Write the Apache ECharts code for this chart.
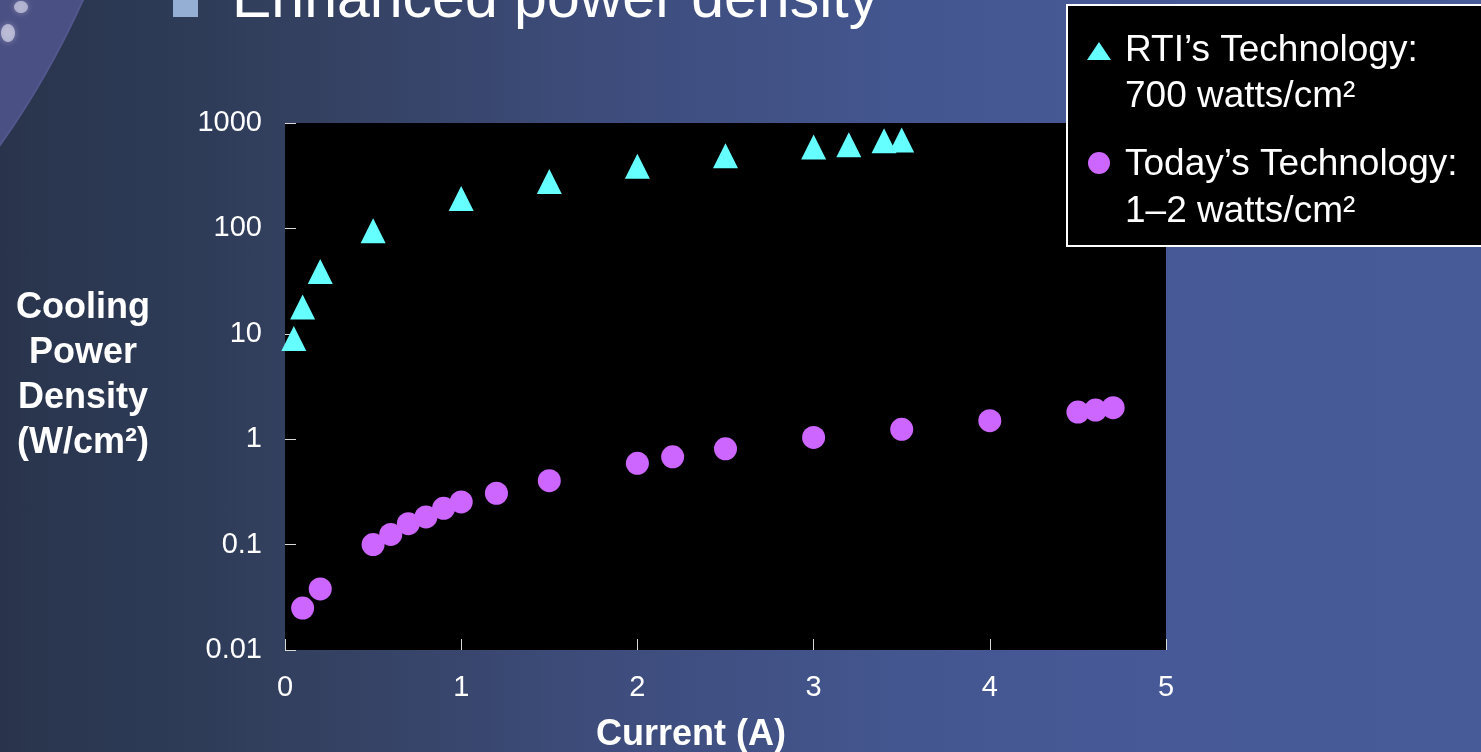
<!DOCTYPE html>
<html>
<head>
<meta charset="utf-8">
<title>Enhanced power density</title>
<script src="https://cdn.jsdelivr.net/npm/echarts@6/dist/echarts.min.js"></script>
<style>
  html, body { margin: 0; padding: 0; width: 1481px; height: 752px; overflow: hidden; }
  body {
    background: linear-gradient(to right,
      #29344c 0px, #2d3a55 150px, #33405f 300px, #3d4c7b 600px,
      #44568f 900px, #465996 1100px, #475b99 1481px);
  }
  #chart { width: 1481px; height: 752px; }
</style>
</head>
<body>
<div id="chart"></div>
<script>
// Current (A) and cooling power density (W/cm²) for the two technologies
const rtiCurrent   = [0.05, 0.1, 0.2, 0.5, 1.0, 1.5, 2.0, 2.5, 3.0, 3.2, 3.4, 3.5];
const rtiDensity   = [9, 18, 39, 95, 192, 279, 388, 489, 592, 621, 679, 690];

const todayCurrent = [0.1, 0.2, 0.5, 0.6, 0.7, 0.8, 0.9, 1.0, 1.2, 1.5, 2.0, 2.2, 2.5, 3.0, 3.5, 4.0, 4.5, 4.6, 4.7];
const todayDensity = [0.025, 0.038, 0.10, 0.125, 0.158, 0.183, 0.221, 0.254, 0.307, 0.404, 0.59, 0.68, 0.81, 1.04, 1.24, 1.50, 1.81, 1.89, 1.99];

const yTickLabels = ['0.01', '0.1', '1', '10', '100', '1000'];
const xTickLabels = ['0', '1', '2', '3', '4', '5'];

const yTitleLines = ['Cooling', 'Power', 'Density', '(W/cm²)'];

const legendLines = [
  ['RTI’s Technology:', '700 watts/cm²'],
  ['Today’s Technology:', '1–2 watts/cm²']
];

const FONT = '"Liberation Sans", Arial, Helvetica, sans-serif';
const CYAN = '#66ffff';
const VIOLET = '#cc66ff';

const pairs = (xs, ys) => xs.map((x, i) => [x, ys[i]]);

// a thin blank line under the title lifts the centred block slightly
const yTitle = yTitleLines.map(s => '{t|' + s + '}').join('\n') + '\n{gap| }';

const chart = echarts.init(document.getElementById('chart'), null, { renderer: 'canvas' });

chart.setOption({
  backgroundColor: 'transparent',
  animation: false,
  textStyle: { fontFamily: FONT },
  grid: {
    left: 285, right: 315, top: 123, bottom: 102,
    outerBoundsMode: 'none',
    containLabel: false,
    show: true, backgroundColor: '#000000', borderWidth: 0
  },
  xAxis: {
    type: 'value', min: 0, max: 5, interval: 1,
    name: 'Current (A)',
    nameLocation: 'middle',
    nameGap: 67,
    nameTextStyle: { color: '#ffffff', fontSize: 36, fontWeight: 'bold', fontFamily: FONT, padding: [0, 69, 0, 0] },
    axisLine: { show: false },
    axisTick: { show: true, inside: true, length: 11, lineStyle: { color: '#d8d8d8', width: 1 } },
    splitLine: { show: false },
    axisLabel: {
      color: '#ffffff', fontSize: 29, fontFamily: FONT, margin: 23,
      formatter: v => xTickLabels[Math.round(v)]
    }
  },
  yAxis: {
    type: 'log', logBase: 10, min: 0.01, max: 1000,
    name: yTitle,
    nameLocation: 'middle',
    nameRotate: 0,
    nameGap: 202,
    nameTextStyle: {
      color: '#ffffff', fontSize: 36, fontWeight: 'bold', fontFamily: FONT,
      align: 'center', lineHeight: 45,
      rich: {
        t: { color: '#ffffff', fontSize: 36, fontWeight: 'bold', fontFamily: FONT, lineHeight: 45, align: 'center' },
        gap: { fontSize: 1, lineHeight: 22 }
      }
    },
    axisLine: { show: false },
    axisTick: { show: true, inside: true, length: 11, lineStyle: { color: '#d8d8d8', width: 1 } },
    splitLine: { show: false },
    minorTick: { show: false },
    axisLabel: {
      color: '#ffffff', fontSize: 29, fontFamily: FONT, margin: 23,
      formatter: v => yTickLabels[Math.round(Math.log10(v)) + 2]
    }
  },
  series: [
    {
      name: 'RTI’s Technology',
      type: 'scatter',
      symbol: 'triangle',
      symbolSize: [25, 25],
      itemStyle: { color: CYAN, opacity: 1 },
      data: pairs(rtiCurrent, rtiDensity),
      z: 3
    },
    {
      name: 'Today’s Technology',
      type: 'scatter',
      symbol: 'circle',
      symbolSize: 23,
      itemStyle: { color: VIOLET, opacity: 1 },
      data: pairs(todayCurrent, todayDensity),
      z: 3
    }
  ],
  graphic: [
    // planet edge in the upper-left corner of the slide
    {
      type: 'circle', z: -10, silent: true,
      shape: { cx: -710, cy: -358, r: 870 },
      style: { fill: '#4b5084', stroke: '#52578d', lineWidth: 2 }
    },
    {
      type: 'ellipse', z: -9, silent: true,
      shape: { cx: 21, cy: 7, rx: 7, ry: 6 },
      style: { fill: 'rgba(205,205,228,0.7)', shadowBlur: 6, shadowColor: 'rgba(205,205,228,0.6)' }
    },
    {
      type: 'ellipse', z: -9, silent: true,
      shape: { cx: 8, cy: 33, rx: 7, ry: 9 },
      style: { fill: 'rgba(205,205,228,0.75)', shadowBlur: 6, shadowColor: 'rgba(205,205,228,0.6)' }
    },
    // slide heading
    {
      type: 'rect', z: 5, silent: true,
      shape: { x: 173, y: -9, width: 25, height: 26 },
      style: { fill: '#95aed4' }
    },
    {
      type: 'text', z: 5, silent: true,
      left: 232, top: -29,
      style: { text: 'Enhanced power density', fill: '#ffffff', font: '59px ' + FONT }
    },
    // legend box
    {
      type: 'group', z: 10,
      children: [
        {
          type: 'rect', silent: true,
          shape: { x: 1067, y: 5, width: 500, height: 241 },
          style: { fill: '#000000', stroke: '#ffffff', lineWidth: 2 }
        },
        {
          type: 'polygon', silent: true,
          shape: { points: [[1087, 60], [1111, 60], [1099, 42]] },
          style: { fill: CYAN }
        },
        {
          type: 'circle', silent: true,
          shape: { cx: 1099, cy: 163, r: 11 },
          style: { fill: VIOLET }
        },
        {
          type: 'text', silent: true,
          x: 1125, y: 28,
          style: {
            text: legendLines[0].join('\n'), fill: '#ffffff',
            font: '37px ' + FONT, lineHeight: 46
          }
        },
        {
          type: 'text', silent: true,
          x: 1125, y: 141,
          style: {
            text: legendLines[1].join('\n'), fill: '#ffffff',
            font: '37px ' + FONT, lineHeight: 47
          }
        }
      ]
    }
  ]
});
</script>
</body>
</html>
